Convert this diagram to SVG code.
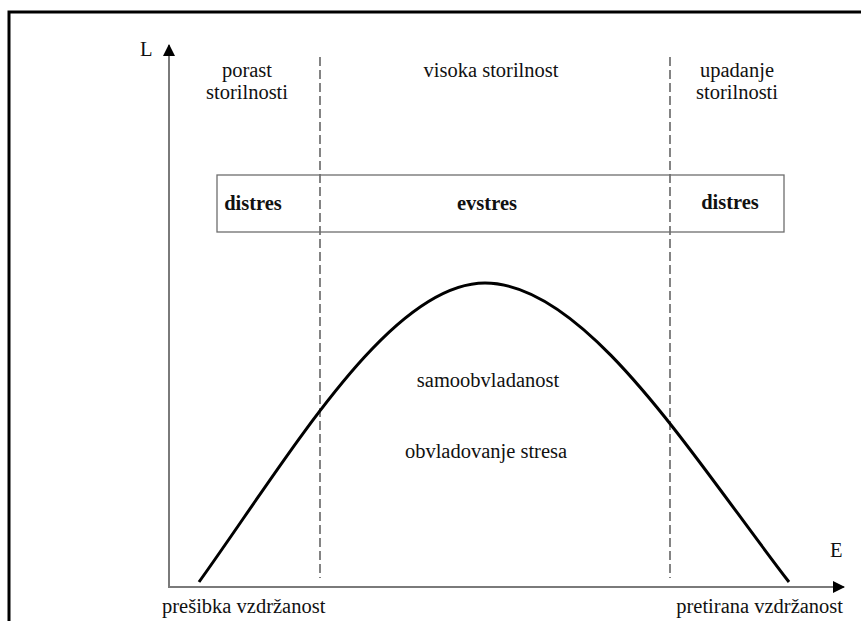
<svg xmlns="http://www.w3.org/2000/svg" width="861" height="621" viewBox="0 0 861 621">
<style>
text{font-family:"Liberation Serif","Times New Roman",serif;font-size:20.5px;fill:#111}
.b{font-weight:bold}
.m{text-anchor:middle}
.axis{stroke:#7a7a7a;stroke-width:2;fill:none}
.dash{stroke:#333;stroke-width:1.2;stroke-dasharray:9,4;fill:none}
.curve{stroke:#000;stroke-width:3;fill:none}
.box{stroke:#6e6e6e;stroke-width:1.3;fill:none}
</style>
<defs>
<marker id="arr" viewBox="0 0 12 12" refX="11" refY="6" markerWidth="12" markerHeight="12" markerUnits="userSpaceOnUse" orient="auto">
<path d="M0,0 L12,6 L0,12 Z" fill="#000"/>
</marker>
</defs>
<rect width="861" height="621" fill="#fff"/>
<g id="frame">
<path d="M9,621 V12 H861" stroke="#000" stroke-width="3" fill="none"/>
</g>
<g id="connectors">
<line class="axis" x1="169" y1="588" x2="169" y2="45" marker-end="url(#arr)"/>
<line class="axis" x1="168" y1="587" x2="844" y2="587" marker-end="url(#arr)"/>
<line class="dash" x1="320" y1="57" x2="320" y2="578"/>
<line class="dash" x1="670" y1="57" x2="670" y2="578"/>
<path class="curve" d="M199,582 C290,455 390,283 485,283 C585,283 689,452 789,582"/>
</g>
<g id="axis-labels">
<text x="140" y="56">L</text>
<text x="830" y="557">E</text>
<text x="162" y="613">prešibka vzdržanost</text>
<text x="843" y="613" text-anchor="end">pretirana vzdržanost</text>
</g>
<g id="phase-left">
<text class="m" x="247" y="77">porast</text>
<text class="m" x="247" y="99">storilnosti</text>
</g>
<g id="phase-mid">
<text class="m" x="491" y="77">visoka storilnost</text>
</g>
<g id="phase-right">
<text class="m" x="737" y="77">upadanje</text>
<text class="m" x="737" y="99">storilnosti</text>
</g>
<g id="stress-box">
<rect class="box" x="217" y="175" width="567" height="57"/>
<text class="b m" x="253" y="210">distres</text>
<text class="b m" x="487" y="210">evstres</text>
<text class="b m" x="730" y="209">distres</text>
</g>
<g id="curve-labels">
<text class="m" x="488" y="387">samoobvladanost</text>
<text class="m" x="486" y="458">obvladovanje stresa</text>
</g>
</svg>
